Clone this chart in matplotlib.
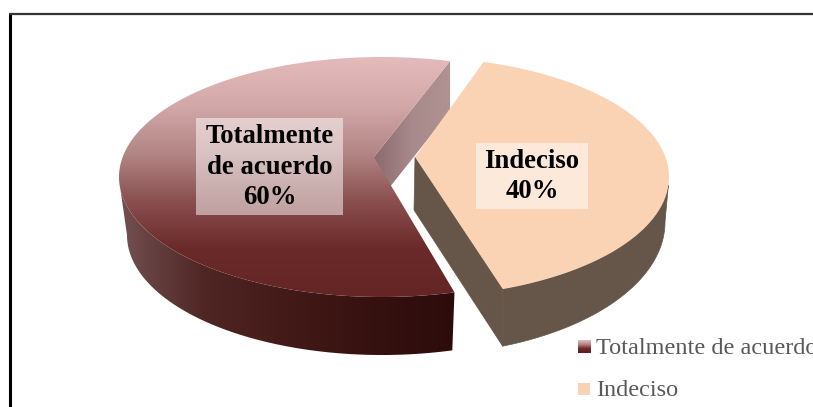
import numpy as np
import matplotlib
matplotlib.use("Agg")
import matplotlib.pyplot as plt
from matplotlib.colors import LinearSegmentedColormap
from matplotlib.patches import Polygon, Rectangle

plt.rcParams["font.family"] = ["Liberation Serif", "DejaVu Serif"]

# chart data
categories = ["Totalmente de acuerdo", "Indeciso"]
shares = [60, 40]
slice_labels = ["Totalmente\nde acuerdo\n60%", "Indeciso\n40%"]

# drawing parameters (pixels of the 813x407 picture)
start_angle = 75
maroon = {"cx": 382, "rx": 263, "cy": 177, "ry": 120, "apex": (374, 157), "trim": 5}
maroon_low = {"cx": 382, "rx": 255, "cy": 235, "ry": 120}
peach = {"cx": 410, "rx": 259, "cy": 177, "ry": 120, "apex": (415, 157), "trim": 1.5}
peach_low = {"cx": 412, "rx": 253, "cy": 222, "ry": 133}
peach_top = "#fad3b5"
peach_wall = "#66564a"


def rim(piece, t0, t1):
    t = np.radians(np.linspace(t0, t1, 150))
    return np.column_stack([piece["cx"] + piece["rx"]*np.cos(t),
                            piece["cy"] - piece["ry"]*np.sin(t)])


def gradient(ax, poly, stops, vertical=True):
    # paint a colour ramp and clip it to the polygon
    cmap = LinearSegmentedColormap.from_list("ramp", stops)
    patch = Polygon(poly, closed=True, facecolor="none", edgecolor="none")
    ax.add_patch(patch)
    x0, y0 = poly.min(axis=0)
    x1, y1 = poly.max(axis=0)
    ramp = np.linspace(0, 1, 256)
    ramp = ramp[:, None] if vertical else ramp[None, :]
    im = ax.imshow(ramp, cmap=cmap, extent=(x0, x1, y1, y0), aspect="auto",
                   interpolation="bilinear", zorder=2)
    im.set_clip_path(patch)


fig = plt.figure(figsize=(8.13, 4.07), dpi=100)
ax = fig.add_axes([0, 0, 1, 1])

# angles of the two slices
sweep_m = 360*shares[0]/sum(shares)
sweep_p = 360*shares[1]/sum(shares)
m_end = start_angle + sweep_m - maroon["trim"]
p_start = start_angle + sweep_m
p_end = p_start + sweep_p - peach["trim"]

# maroon slice: outer wall, cut wall, top face
upper = rim(maroon, 186, m_end)
lower = rim(maroon_low, m_end, 180)
gradient(ax, np.vstack([upper, lower]),
         ["#735052", "#4f2624", "#431a18", "#361110", "#2c0c0b"], vertical=False)

corner = rim(maroon, start_angle, start_angle)[0]
apex_m = np.array(maroon["apex"], dtype=float)
cut = np.array([apex_m, corner, corner + [0, 50], apex_m + [0, 50]])
gradient(ax, cut, ["#8a6a6e", "#a98a8b", "#b09292"], vertical=False)

top_m = np.vstack([apex_m, rim(maroon, start_angle, m_end)])
gradient(ax, top_m, ["#e5baba", "#d3a8a8", "#b38686", "#8a4f4f", "#6b2a2a", "#662525"])

# peach slice
apex_p = np.array(peach["apex"], dtype=float)
p_corner = rim(peach, p_start, p_start)[0]
low_corner = rim(peach_low, p_start, p_start)[0]
ax.add_patch(Polygon([apex_p, p_corner, low_corner, apex_p + [-1, 53]],
                     closed=True, facecolor=peach_wall, edgecolor=peach_wall, lw=0.5, zorder=2))
upper = rim(peach, p_start, 356)
lower = rim(peach_low, 360, p_start)
ax.add_patch(Polygon(np.vstack([upper, lower]), closed=True, facecolor=peach_wall,
                     edgecolor=peach_wall, lw=0.5, zorder=2))
top_p = np.vstack([apex_p, rim(peach, p_start, p_end)])
ax.add_patch(Polygon(top_p, closed=True, facecolor=peach_top, edgecolor="none", zorder=3))

# labels on the slices
ax.add_patch(Rectangle((196, 118), 147, 97, facecolor="white", alpha=0.5, edgecolor="none", zorder=4))
ax.add_patch(Rectangle((476, 143), 112, 66, facecolor="white", alpha=0.5, edgecolor="none", zorder=4))
ax.text(269.5, 167, slice_labels[0], ha="center", va="center", fontsize=19.3,
        fontweight="bold", color="black", linespacing=1.28, zorder=5)
ax.text(532, 176.5, slice_labels[1], ha="center", va="center", fontsize=19.3,
        fontweight="bold", color="black", linespacing=1.28, zorder=5)

# legend
swatch = np.linspace(0, 1, 64)[:, None]
cmap_leg = LinearSegmentedColormap.from_list("leg", ["#e5baba", "#b38686", "#6b2a2a", "#5a1f1f"])
ax.imshow(swatch, cmap=cmap_leg, extent=(578, 591, 353, 340), aspect="auto", zorder=3)
ax.add_patch(Rectangle((578, 383), 12, 12, facecolor=peach_top, edgecolor="none", zorder=3))
ax.text(596, 348.5, categories[0], ha="left", va="center", fontsize=17.5, color="#595959", zorder=5)
ax.text(596, 391, categories[1], ha="left", va="center", fontsize=17.5, color="#595959", zorder=5)

# frame of the picture, only left and top fall inside
ax.plot([10, 10], [407, 13], color="black", lw=2.2, solid_capstyle="butt", zorder=6)
ax.plot([9, 813], [13.5, 13.5], color="#333333", lw=1.6, solid_capstyle="butt", zorder=6)

ax.set_xlim(0, 813)
ax.set_ylim(407, 0)
ax.axis("off")
fig.savefig("out.png", dpi=100)
plt.close(fig)
